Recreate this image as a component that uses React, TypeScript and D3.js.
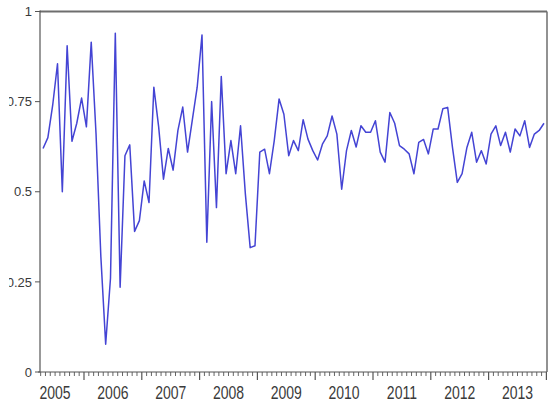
import React from "react";
import * as d3 from "d3";

const START_YEAR = 2005;
const START_MONTH = 4; // first observation: April 2005, monthly

const values: number[] = [
  0.62, 0.65, 0.74, 0.855, 0.50, 0.905, 0.64, 0.69, 0.76, 0.68,
  0.915, 0.66, 0.32, 0.077, 0.26, 0.94, 0.235, 0.60, 0.63, 0.39,
  0.42, 0.53, 0.47, 0.79, 0.68, 0.535, 0.62, 0.56, 0.67, 0.735,
  0.61, 0.70, 0.79, 0.935, 0.36, 0.75, 0.456, 0.82, 0.55, 0.642,
  0.55, 0.683, 0.494, 0.345, 0.35, 0.61, 0.618, 0.55, 0.642, 0.757,
  0.715, 0.60, 0.642, 0.614, 0.70, 0.646, 0.614, 0.588, 0.632, 0.655,
  0.71, 0.66, 0.507, 0.614, 0.67, 0.624, 0.683, 0.665, 0.665, 0.697,
  0.61, 0.582, 0.72, 0.69, 0.628, 0.618, 0.605, 0.55, 0.637, 0.645,
  0.605, 0.674, 0.674, 0.73, 0.734, 0.623, 0.526, 0.55, 0.623, 0.665,
  0.582, 0.614, 0.577, 0.66, 0.683, 0.628, 0.665, 0.61, 0.674, 0.655,
  0.697, 0.623, 0.66, 0.67, 0.69,
];

const yTicks: number[] = [0, 0.25, 0.5, 0.75, 1];
const yTickLabels: string[] = ["0", "0.25", "0.5", "0.75", "1"];
const yearLabels: number[] = [2005, 2006, 2007, 2008, 2009, 2010, 2011, 2012, 2013];

const W = 552;
const H = 405;
const L = 40, R = 547, T = 11.5, B = 372;

export default function App() {
  const x = d3.scaleLinear().domain([2005.2388, 2014.0104]).range([L, R]);
  const y = d3.scaleLinear().domain([0, 1]).range([B, T]);

  const pts = values.map((v, i) => {
    const m = START_MONTH - 1 + i;
    return { t: START_YEAR + (m + 0.5) / 12, v };
  });
  const line = d3
    .line<{ t: number; v: number }>()
    .x((d) => x(d.t))
    .y((d) => y(d.v));

  const monthTicks: { t: number; major: boolean }[] = [];
  for (let yr = 2005; yr <= 2014; yr++) {
    for (let m = 0; m < 12; m++) {
      const t = yr + m / 12;
      const px = x(t);
      if (px > L + 0.5 && px < R - 0.5) monthTicks.push({ t, major: m === 0 });
    }
  }

  const font = "'Liberation Sans', Arial, sans-serif";

  return (
    <div style={{ position: "absolute", left: 0, top: 0, width: W, height: H, background: "#fff" }}>
      <svg width={W} height={H} style={{ display: "block" }}>
        <rect x={0} y={0} width={W} height={H} fill="#fff" />
        <path d={line(pts) || ""} fill="none" stroke="#4444d4" strokeWidth={1.5} strokeLinejoin="round" />
        <line x1={L} y1={T} x2={R} y2={T} stroke="#6e6e6e" strokeWidth={2} />
        <line x1={R} y1={T} x2={R} y2={B} stroke="#6e6e6e" strokeWidth={1.5} />
        <line x1={L} y1={T - 1} x2={L} y2={B} stroke="#555" strokeWidth={1.2} />
        <line x1={L - 2} y1={B} x2={R} y2={B} stroke="#555" strokeWidth={1.2} />
        {yTicks.map((v, i) => (
          <g key={"y" + i}>
            <line x1={L - 5} y1={y(v)} x2={L} y2={y(v)} stroke="#555" strokeWidth={1} />
            <text
              x={32}
              y={y(v)}
              dy="0.36em"
              textAnchor="end"
              fontFamily={font}
              fontSize={13}
              fill="#3a3a3a"
            >
              {yTickLabels[i]}
            </text>
          </g>
        ))}
        {monthTicks.map((d, i) => (
          <line
            key={"m" + i}
            x1={x(d.t)}
            y1={B}
            x2={x(d.t)}
            y2={B + (d.major ? 8 : 4)}
            stroke="#555"
            strokeWidth={d.major ? 1.2 : 0.9}
          />
        ))}
        {yearLabels.map((yr) => (
          <text
            key={"yr" + yr}
            transform={`translate(${x(yr + 0.5)},399) scale(1,1.3)`}
            textAnchor="middle"
            fontFamily={font}
            fontSize={14}
            fill="#3a3a3a"
          >
            {String(yr)}
          </text>
        ))}
        <rect x={0} y={0} width={9} height={H} fill="#fff" />
      </svg>
    </div>
  );
}
